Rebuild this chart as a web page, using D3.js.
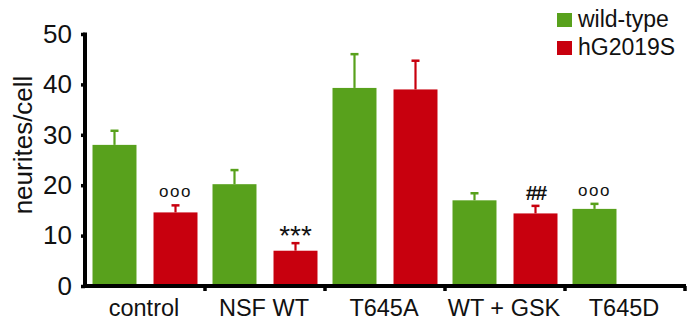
<!DOCTYPE html>
<html><head><meta charset="utf-8">
<script src="https://cdn.jsdelivr.net/npm/d3@7"></script>
<style>body{margin:0;background:#fff}svg{display:block}text{font-family:"Liberation Sans",Arial,sans-serif;fill:#111}</style>
</head><body><svg id="c" width="687" height="327"></svg>
<script>
const categories = ["control", "NSF WT", "T645A", "WT + GSK", "T645D"];
const seriesNames = ["wild-type", "hG2019S"];
const wildType = [28.0, 20.2, 39.3, 17.0, 15.3];
const wildTypeErr = [2.8, 2.8, 6.7, 1.4, 1.0];
const hG2019S = [14.6, 7.0, 39.0, 14.4, null];
const hG2019SErr = [1.4, 1.5, 5.7, 1.5, null];
const annotWT = ["", "", "", "", "ooo"];
const annotHG = ["ooo", "***", "", "##", ""];
const yTicks = [0, 10, 20, 30, 40, 50];
const colors = ["#58a11c", "#c8000e"];

const svg = d3.select("#c");
const x0 = d3.scaleBand().domain(categories).range([85, 685]).padding(0);
const x1 = d3.scaleBand().domain(seriesNames).range([0, x0.bandwidth()]).paddingInner(0.279).paddingOuter(0.123);
const y = d3.scaleLinear().domain([0, 50]).range([286, 34]);
const color = d3.scaleOrdinal().domain(seriesNames).range(colors);

const rows = [];
categories.forEach((c, i) => {
  rows.push({cat: c, s: seriesNames[0], v: wildType[i], e: wildTypeErr[i], a: annotWT[i]});
  rows.push({cat: c, s: seriesNames[1], v: hG2019S[i], e: hG2019SErr[i], a: annotHG[i]});
});
const data = rows.filter(d => d.v != null);

// bars
svg.append("g").selectAll("rect").data(data).join("rect")
  .attr("x", d => x0(d.cat) + x1(d.s))
  .attr("y", d => y(d.v))
  .attr("width", x1.bandwidth())
  .attr("height", d => y(0) - y(d.v))
  .attr("fill", d => color(d.s));

// error bars
const eg = svg.append("g");
eg.selectAll("line.v").data(data).join("line").attr("class","v")
  .attr("x1", d => x0(d.cat) + x1(d.s) + x1.bandwidth()/2)
  .attr("x2", d => x0(d.cat) + x1(d.s) + x1.bandwidth()/2)
  .attr("y1", d => y(d.v)).attr("y2", d => y(d.v + d.e))
  .attr("stroke", d => color(d.s)).attr("stroke-width", 2.2);
eg.selectAll("line.c").data(data).join("line").attr("class","c")
  .attr("x1", d => x0(d.cat) + x1(d.s) + x1.bandwidth()/2 - 4)
  .attr("x2", d => x0(d.cat) + x1(d.s) + x1.bandwidth()/2 + 4)
  .attr("y1", d => y(d.v + d.e)).attr("y2", d => y(d.v + d.e))
  .attr("stroke", d => color(d.s)).attr("stroke-width", 2.5);

// annotations
const ann = data.filter(d => d.a);
svg.append("g").selectAll("text").data(ann).join("text")
  .attr("x", d => x0(d.cat) + x1(d.s) + x1.bandwidth()/2)
  .attr("y", d => {
    const top = y(d.v + d.e);
    if (d.a === "***") return top + 2;
    if (d.a === "##") return top - 6;
    return top - 8;
  })
  .attr("text-anchor", "middle")
  .attr("font-size", d => d.a === "***" ? 28 : d.a === "##" ? 21 : 17)
  .attr("font-weight", d => d.a === "##" ? "bold" : "normal")
  .attr("letter-spacing", d => d.a === "ooo" ? 1.5 : (d.a === "##" ? -2 : 0))
  .text(d => d.a);

// y axis
const yAxis = svg.append("g").attr("transform", "translate(85,0)")
  .call(d3.axisLeft(y).tickValues(yTicks).tickSize(4).tickPadding(9).tickFormat(d3.format("d")));
yAxis.select(".domain").attr("d", `M0,${y(0)+1.5}V${y(50)-1.5}`).attr("stroke", "#000").attr("stroke-width", 4);
yAxis.selectAll(".tick line").attr("stroke", "#000").attr("stroke-width", 3.5);
yAxis.selectAll(".tick text").attr("font-size", 26).attr("fill", "#111").attr("font-family", "Liberation Sans, Arial, sans-serif");

// x axis
const xAxis = svg.append("g").attr("transform", `translate(0,${y(0)})`)
  .call(d3.axisBottom(x0).tickSize(0).tickPadding(0).tickFormat(""));
xAxis.select(".domain").attr("d", "M84,0H686").attr("stroke", "#000").attr("stroke-width", 4);
xAxis.selectAll(".tick").remove();
const bounds = categories.map(c => x0(c) + x0.bandwidth());
xAxis.selectAll("line.t").data(bounds).join("line").attr("class","t")
  .attr("x1", d => d).attr("x2", d => d).attr("y1", 0).attr("y2", 5)
  .attr("stroke", "#000").attr("stroke-width", 3.5);
svg.append("g").selectAll("text").data(categories).join("text")
  .attr("x", d => x0(d) + x0.bandwidth()/2 - 1)
  .attr("y", 316)
  .attr("text-anchor", "middle")
  .attr("font-size", 23.5)
  .text(d => d);

// y title
svg.append("text")
  .attr("transform", "translate(32,145) rotate(-90)")
  .attr("text-anchor", "middle")
  .attr("font-size", 26)
  .text("neurites/cell");

// legend
const lg = svg.append("g").selectAll("g").data(seriesNames).join("g")
  .attr("transform", (d, i) => `translate(557,${13 + i*28})`);
lg.append("rect").attr("width", 15).attr("height", 14).attr("fill", d => color(d));
lg.append("text").attr("x", 21).attr("y", 14).attr("font-size", 23).text(d => d);
</script></body></html>
